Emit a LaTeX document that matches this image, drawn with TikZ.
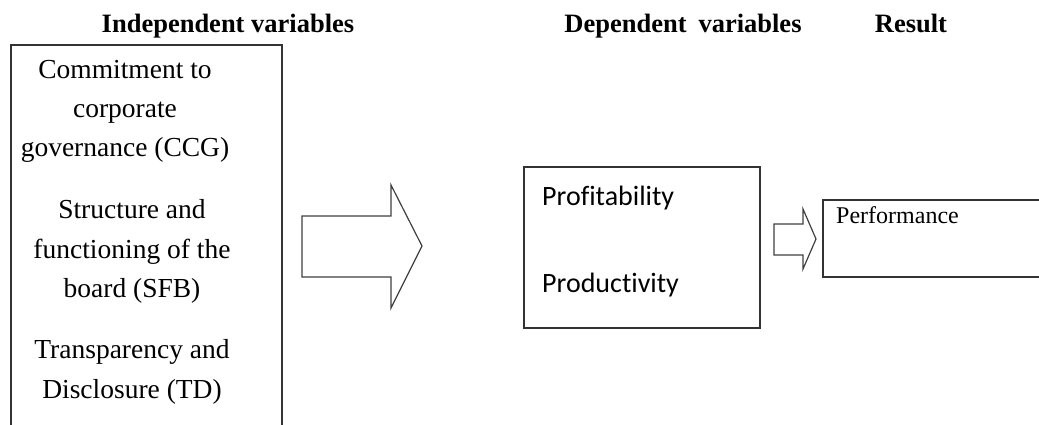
\documentclass[tikz,border=0pt]{standalone}
\usepackage{fontspec}
\setmainfont{Liberation Serif}
\newfontfamily\calibri[Ligatures=NoCommon]{Carlito}
\begin{document}
\begin{tikzpicture}[x=1pt,y=-1pt,
    head/.style={anchor=base, inner sep=0pt, font=\fontsize{26.5}{30}\selectfont\bfseries},
    frame/.style={draw=black!80, line width=1.3pt},
    blockarrow/.style={draw=black!75, line width=1.2pt, line join=miter, fill=white},
    item/.style={anchor=base, inner sep=0pt, font=\fontsize{27.5}{32}\selectfont},
    measure/.style={anchor=base west, inner sep=0pt, font=\calibri\fontsize{28}{32}\selectfont}]
    \useasboundingbox (0,0) rectangle (1039,425);
    \clip (0,0) rectangle (1039,425);

    % column headings
    \node[head] (indep) at (228,33) {Independent variables};
    \node[head] (dep) at (683,33) {Dependent\hspace{0.45em}variables};
    \node[head] (res) at (911,33) {Result};

    % independent variables
    \draw[frame] (11,45) rectangle (282,450);
    \foreach \xx/\yy/\txt [count=\i] in {125/79/Commitment to, 125/118/corporate, 125/157/governance (CCG),
        132/218/Structure and, 132/258/functioning of the, 132/297/board (SFB),
        132/358/Transparency and, 132/398/Disclosure (TD)} {
        \node[item] (iv\i) at (\xx,\yy) {\txt};
    }

    \draw[blockarrow] (302,216) -- (391,216) -- (391,185) -- (422,246) -- (391,308) -- (391,277) -- (302,277) -- cycle;

    % dependent variables
    \draw[frame] (524,167) rectangle (760,328);
    \node[measure] (prof) at (542,205) {Profitability};
    \node[measure] (prod) at (542,292) {Productivity};

    \draw[blockarrow] (774,224) -- (803,224) -- (803,209) -- (816,239) -- (803,269) -- (803,255) -- (774,255) -- cycle;

    % result
    \draw[frame] (823,200) rectangle (1060,277);
    \node[anchor=base west, inner sep=0pt, font=\fontsize{24}{28}\selectfont] (perf) at (836,223) {Performance};
\end{tikzpicture}
\end{document}
